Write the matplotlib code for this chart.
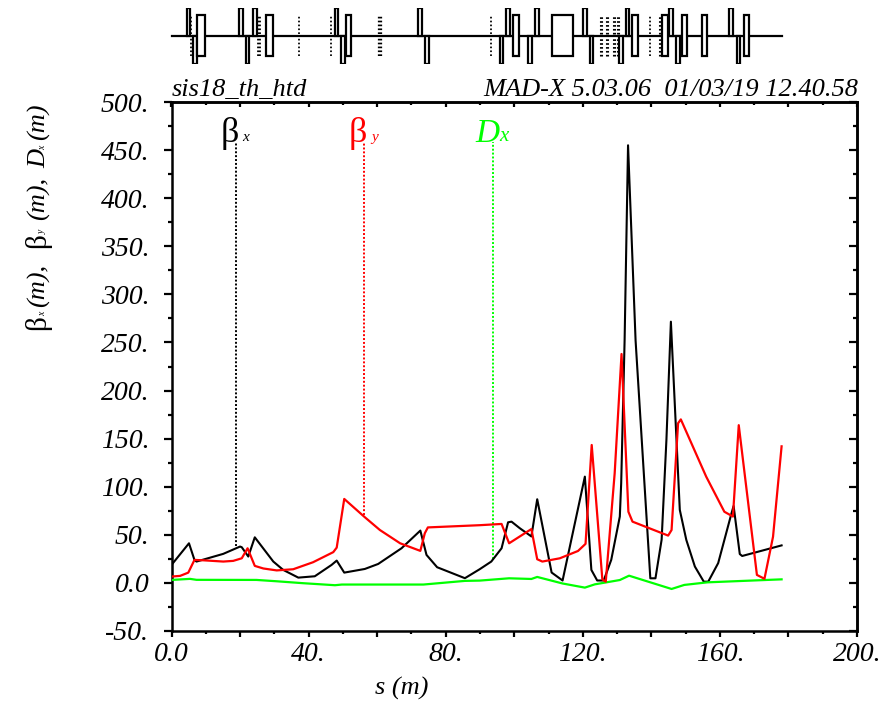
import matplotlib
matplotlib.use("Agg")
import matplotlib.pyplot as plt
from matplotlib.patches import Rectangle
from matplotlib.ticker import FixedLocator, FixedFormatter

W, H = 894, 725
SERIF = "Liberation Serif"
plt.rcParams["font.family"] = SERIF

# ---------- data ----------
betx_s = [0.0, 5.1, 6.7, 7.3, 15.1, 20.0, 20.5, 22.4, 24.3, 29.7, 32.6, 37.0, 41.8, 46.7, 48.2, 50.4,
          56.4, 60.3, 67.1, 72.6, 74.4, 77.5, 85.6, 89.9, 93.3, 96.3, 98.2, 99.2, 101.6, 105.0, 106.7,
          110.9, 114.1, 120.6, 122.5, 124.2, 126.1, 128.3, 130.8, 131.2, 132.2, 133.2, 135.4, 139.7,
          141.2, 143.0, 144.4, 145.7, 148.3, 150.2, 152.7, 155.3, 156.6, 159.5, 163.4, 164.0, 165.8, 166.5, 178.0]
betx_v = [18.7, 41.2, 23.9, 22.2, 30.2, 37.8, 37.1, 27.4, 47.4, 22.2, 13.5, 5.5, 6.9, 18.7, 23.2, 10.7,
          14.5, 19.7, 36.0, 54.4, 29.1, 16.3, 4.9, 14.2, 22.2, 36.0, 63.0, 63.7, 56.9, 48.3, 87.0,
          10.8, 2.5, 110.5, 13.5, 2.5, 2.5, 24.0, 69.0, 103.7, 252.6, 455.0, 252.0, 4.8,
          4.8, 45.0, 149.0, 271.6, 75.9, 44.7, 17.0, 1.3, 1.3, 20.6, 72.6, 80.0, 30.0, 28.0, 39.0]

bety_s = [0.0, 2.5, 4.9, 6.7, 9.3, 15.1, 18.0, 20.5, 22.2, 24.3, 26.8, 30.7, 35.5, 41.3, 47.2, 48.2,
          50.4, 56.4, 60.8, 66.7, 72.6, 73.9, 74.8, 89.9, 96.3, 98.5, 105.0, 106.7, 108.2, 113.3, 118.6,
          120.8, 122.6, 125.7, 126.7, 129.3, 131.3, 133.3, 134.5, 144.9, 145.9, 147.8, 148.6, 156.0,
          161.3, 163.8, 165.5, 170.8, 173.0, 175.5, 178.0]
bety_v = [6.6, 7.3, 10.7, 23.9, 23.5, 22.2, 22.9, 25.6, 36.0, 17.7, 15.0, 13.0, 14.2, 21.5, 32.0, 36.7,
          87.3, 68.3, 55.0, 41.2, 33.3, 51.6, 57.7, 60.0, 61.3, 41.2, 56.0, 24.6, 22.2, 25.6, 33.2,
          40.6, 143.4, 3.7, 1.3, 114.0, 238.0, 74.0, 63.7, 49.2, 55.0, 166.0, 170.0, 110.5,
          74.0, 69.0, 164.0, 8.3, 4.3, 48.0, 142.0]

dx_s = [0.0, 5.4, 7.3, 24.8, 30.7, 38.4, 47.7, 49.7, 73.5, 85.6, 89.9, 98.5, 105.0, 106.7, 114.1,
        120.6, 123.5, 130.8, 133.5, 145.9, 149.6, 156.4, 178.0]
dx_v = [3.1, 4.2, 3.2, 3.1, 1.7, -0.3, -2.4, -1.7, -1.7, 2.1, 2.4, 4.8, 4.1, 6.2, -0.6,
        -4.9, -1.5, 3.0, 7.5, -6.3, -2.1, 0.6, 3.7]

# legend drop lines: s, value at the curve
legend_s = [18.9, 56.2, 93.7]
legend_end = [38.0, 71.0, 25.0]
legend_top = 458.0

x_major = [0, 20, 40, 60, 80, 100, 120, 140, 160, 180, 200]
x_labels = ["0.0", "", "40.", "", "80.", "", "120.", "", "160.", "", "200."]
x_minor = [10, 30, 50, 70, 90, 110, 130, 150, 170, 190]
y_major = [-50, 0, 50, 100, 150, 200, 250, 300, 350, 400, 450, 500]
y_labels = ["-50.", "0.0", "50.", "100.", "150.", "200.", "250.", "300.", "350.", "400.", "450.", "500."]
y_minor = [-25, 25, 75, 125, 175, 225, 275, 325, 375, 425, 475]

# lattice elements (s start)
quad_up = [4.4, 19.7, 23.7, 47.6, 72.0, 97.7, 106.1, 120.0, 132.5, 145.2, 162.8]
quad_down = [6.2, 21.6, 49.5, 74.1, 95.7, 104.1, 122.0, 130.6, 147.2, 164.9]
quad_len = 1.1
bend_s = [7.3, 27.6, 50.9, 99.6, 111.0, 134.5, 143.2, 148.8, 154.8, 166.9]
bend_len = [2.4, 2.1, 1.5, 1.7, 6.0, 1.6, 1.6, 1.6, 1.4, 1.6]
sext_s = [5.7, 25.5, 37.2, 46.5, 60.9, 93.3, 125.4, 127.0, 129.0, 130.4, 139.6, 142.6]
sext_w = [1.5, 3.2, 1.5, 1.5, 3.6, 1.5, 2.6, 2.6, 2.6, 2.6, 1.5, 2.6]
line_end = 178.0

# ---------- layout ----------
L, R, T, B = 171.5, 857.0, 102.0, 631.0
fig = plt.figure(figsize=(W / 100, H / 100), dpi=100)
ax = fig.add_axes([L / W, 1 - B / H, (R - L) / W, (B - T) / H])
ax.set_xlim(0, 200)
ax.set_ylim(-50, 500)

for sp in ax.spines.values():
    sp.set_linewidth(1.8)

lw = 1.5
ax.plot(betx_s, betx_v, color="black", lw=lw, zorder=3)
ax.plot(dx_s, dx_v, color="#00ff00", lw=lw + 0.1, zorder=3)
ax.plot(bety_s, bety_v, color="#ff0000", lw=lw + 0.1, zorder=4)

for s, end, c in zip(legend_s, legend_end, ["black", "#ff0000", "#00ff00"]):
    ax.plot([s, s], [end, legend_top], color=c, lw=1.4, ls=(0, (1.0, 1.0)), zorder=2)

tw = 1.6
ax.xaxis.set_major_locator(FixedLocator(x_major))
ax.xaxis.set_major_formatter(FixedFormatter(x_labels))
ax.xaxis.set_minor_locator(FixedLocator(x_minor))
ax.yaxis.set_major_locator(FixedLocator(y_major))
ax.yaxis.set_major_formatter(FixedFormatter(y_labels))
ax.yaxis.set_minor_locator(FixedLocator(y_minor))
ax.tick_params(axis="x", which="major", direction="out", length=4.5, width=tw, pad=3.5, labelsize=20)
ax.tick_params(axis="x", which="minor", direction="out", length=2.2, width=tw)
ax.tick_params(axis="y", which="major", direction="out", length=6, width=tw, pad=10, labelsize=20)
ax.tick_params(axis="y", which="minor", direction="out", length=3.2, width=tw)
for t in ax.get_xticklabels() + ax.get_yticklabels():
    t.set_fontstyle("italic")

top = ax.secondary_xaxis("top")
top.xaxis.set_major_locator(FixedLocator(x_major))
top.xaxis.set_minor_locator(FixedLocator(x_minor))
top.tick_params(axis="x", which="major", direction="in", length=3.6, width=tw, labeltop=False)
top.tick_params(axis="x", which="minor", direction="in", length=2.2, width=tw)
top.spines["top"].set_linewidth(1.8)
right = ax.secondary_yaxis("right")
right.yaxis.set_major_locator(FixedLocator(y_major))
right.yaxis.set_minor_locator(FixedLocator(y_minor))
right.tick_params(axis="y", which="major", direction="in", length=6, width=tw, labelright=False)
right.tick_params(axis="y", which="minor", direction="in", length=3.2, width=tw)
right.spines["right"].set_linewidth(1.8)


def txt(x, y, s, size=19, style="italic", color="black", **kw):
    fig.text(x / W, 1 - y / H, s, fontsize=size, fontstyle=style, color=color,
             family=SERIF, **kw)


# header
txt(172, 96, "sis18_th_htd", ha="left", va="baseline")
txt(858, 96, "MAD-X 5.03.06  01/03/19 12.40.58", ha="right", va="baseline")
# x label
txt(402, 695, "s (m)", ha="center", va="baseline")

# y label pieces
rot = dict(rotation=90, rotation_mode="anchor", ha="left", va="baseline")
txt(45, 330, "β", size=21, style="normal", **rot)
txt(45, 316, "x", size=7, **rot)
txt(45, 307, "(m),", **rot)
txt(45, 248, "β", size=21, style="normal", **rot)
txt(45, 234, "y", size=7, **rot)
txt(45, 220, "(m),", **rot)
txt(45, 168, "D", **rot)
txt(45, 150, "x", size=7, **rot)
txt(45, 140, "(m)", **rot)

# legend labels
txt(221, 142, "β", size=26, style="normal", ha="left", va="baseline")
txt(242, 141, "x", size=11, ha="left", va="baseline")
txt(349, 142, "β", size=26, style="normal", color="#ff0000", ha="left", va="baseline")
txt(371, 141, "y", size=11, color="#ff0000", ha="left", va="baseline")
txt(475, 142, "D", size=24, color="#00ff00", ha="left", va="baseline")
txt(499, 141, "x", size=15, color="#00ff00", ha="left", va="baseline")

# ---------- lattice strip ----------
lat_top, lat_bot = 7.5, 63.5
lat = fig.add_axes([L / W, 1 - lat_bot / H, (R - L) / W, (lat_bot - lat_top) / H])
lat.set_xlim(0, 200)
lat.set_ylim(-1, 1)
lat.axis("off")
lat.patch.set_alpha(0)
lat.plot([0, line_end], [0, 0], color="black", lw=1.6, zorder=2, clip_on=False)
edge = dict(facecolor="white", edgecolor="black", linewidth=1.6, zorder=3)
for s in quad_up:
    lat.add_patch(Rectangle((s, 0), quad_len, 1, **edge))
for s in quad_down:
    lat.add_patch(Rectangle((s, -1), quad_len, 1, **edge))
for s, d in zip(bend_s, bend_len):
    lat.add_patch(Rectangle((s, -0.74), d, 1.48, **edge))
for s, w in zip(sext_s, sext_w):
    lat.vlines(s, 0.05, 0.74, color="black", lw=w * 0.85, linestyles=(0, (1.2 / (w * 0.85), 1.6 / (w * 0.85))), zorder=1)
    lat.vlines(s, -0.74, -0.05, color="black", lw=w * 0.85, linestyles=(0, (1.2 / (w * 0.85), 1.6 / (w * 0.85))), zorder=1)

fig.savefig("out.png", dpi=100)
